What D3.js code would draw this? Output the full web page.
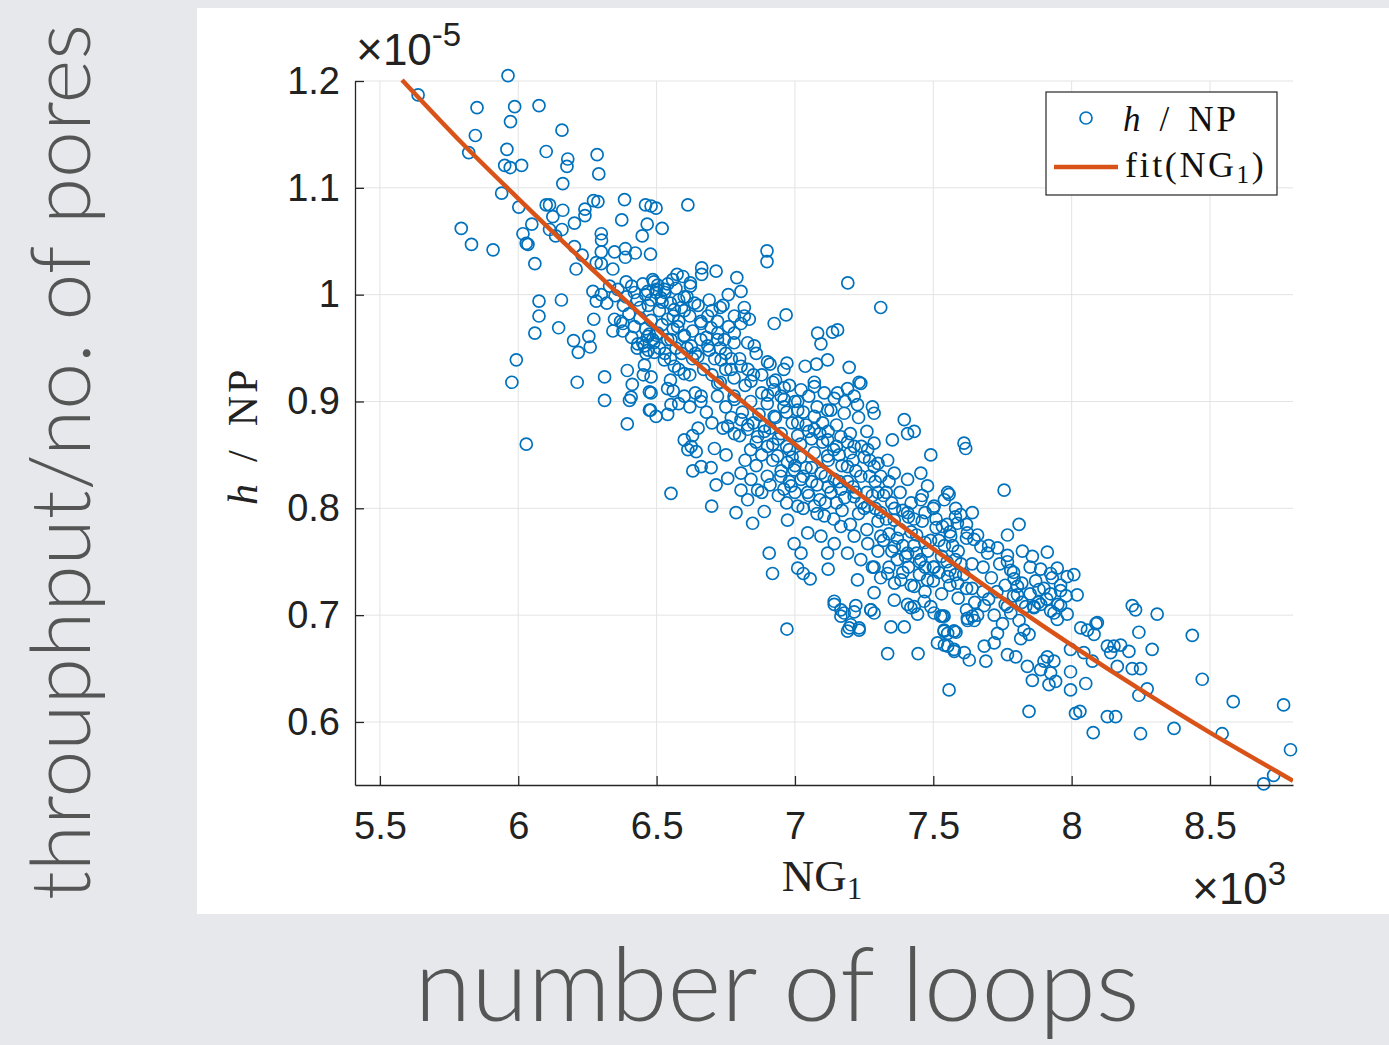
<!DOCTYPE html>
<html>
<head>
<meta charset="utf-8">
<script src="https://cdn.jsdelivr.net/npm/d3@7"></script>
<style>
  html, body { margin: 0; padding: 0; background: #e7e8eb; }
  svg { display: block; }
</style>
</head>
<body>
<svg id="chart" width="1389" height="1045"></svg>
<script>
// Tick values (NG1 in units of 1e3, h/NP in units of 1e-5)
const xTicks = [5.5, 6, 6.5, 7, 7.5, 8, 8.5];
const yTicks = [0.6, 0.7, 0.8, 0.9, 1.0, 1.1, 1.2];
const xTickLabels = ["5.5", "6", "6.5", "7", "7.5", "8", "8.5"];
const yTickLabels = ["0.6", "0.7", "0.8", "0.9", "1", "1.1", "1.2"];

// Fitted curve, sampled along NG1
const fitNG = [5.58, 5.80, 6.00, 6.25, 6.50, 6.75, 7.00, 7.25, 7.50, 7.75, 8.00, 8.25, 8.50, 8.80];
const fitHNP = [1.201, 1.141, 1.090, 1.028, 0.968, 0.913, 0.860, 0.810, 0.762, 0.716, 0.672, 0.630, 0.590, 0.545];

// Measured samples: [NG1 (x1e3), h/NP (x1e-5)]
const samples = [
  [5.638,1.187],[5.963,1.205],[5.851,1.175],[5.987,1.176],[6.075,1.177],[5.972,1.162],[6.158,1.154],[5.845,1.149],
  [5.821,1.133],[5.959,1.136],[6.101,1.134],[6.285,1.131],[5.951,1.121],[5.971,1.119],[6.012,1.121],[6.179,1.127],
  [6.176,1.120],[6.291,1.113],[6.161,1.104],[5.940,1.095],[6.002,1.082],[6.101,1.084],[6.113,1.084],[6.161,1.079],
  [6.272,1.088],[6.288,1.087],[6.384,1.089],[6.460,1.084],[6.480,1.083],[6.498,1.081],[6.241,1.080],[6.241,1.074],
  [6.203,1.067],[6.125,1.073],[6.049,1.066],[6.113,1.061],[6.158,1.061],[6.135,1.055],[6.017,1.057],[6.029,1.048],
  [6.035,1.047],[5.794,1.062],[5.831,1.047],[5.909,1.042],[6.060,1.029],[6.209,1.024],[6.203,1.045],[6.300,1.057],
  [6.301,1.051],[6.374,1.070],[6.466,1.066],[6.520,1.062],[6.448,1.055],[6.300,1.040],[6.348,1.040],[6.387,1.043],
  [6.387,1.035],[6.423,1.039],[6.478,1.038],[6.231,1.037],[6.282,1.030],[6.300,1.029],[6.342,1.024],[6.075,0.994],
  [6.156,0.995],[6.282,0.994],[6.075,0.980],
  [6.060,0.964],[6.146,0.969],[6.273,0.977],[6.348,0.977],[6.378,0.973],[6.342,0.966],[6.378,0.966],[6.200,0.957],
  [6.255,0.961],[6.260,0.951],[6.217,0.946],[5.993,0.939],[5.977,0.918],[6.213,0.918],[6.312,0.923],[6.394,0.929],
  [6.412,0.916],[6.408,0.904],[6.402,0.901],[6.312,0.901],[6.394,0.879],[6.029,0.860],[6.432,0.954],[6.462,0.945],
  [6.456,0.934],[6.452,0.925],[6.474,0.909],[6.478,0.892],[6.474,0.963],[6.486,0.958],
  [6.613,1.084],[6.899,1.041],[6.899,1.031],[7.191,1.011],[7.310,0.988],[6.663,1.025],[6.663,1.019],[6.715,1.022],
  [6.574,1.019],[6.595,1.017],[6.622,1.011],[6.622,1.008],[6.790,1.016],[6.759,1.000],[6.805,1.003],[6.730,0.988],
  [6.925,0.973],[6.968,0.981],[7.082,0.964],[7.094,0.954],[7.136,0.965],[7.154,0.967],[7.037,0.933],[7.078,0.935],
  [7.118,0.939],[7.196,0.932],[7.232,0.918],[6.901,0.937],[6.971,0.936],[6.817,0.988],[6.817,0.980],[6.835,0.977],
  [6.486,1.014],[6.504,1.009],[6.528,1.005],[6.498,1.002],[6.468,1.003],[6.516,0.997],[6.558,1.014],[6.600,0.998],
  [6.637,0.992],[6.685,0.980],[6.661,0.973],[6.697,0.969],[6.721,0.964],
  [6.564,0.986],[6.540,0.977],[6.576,0.970],[6.600,0.961],[6.552,0.958],[6.504,0.964],[6.468,0.961],[6.456,0.952],
  [6.492,0.946],[6.528,0.939],[6.564,0.933],[6.625,0.952],[6.649,0.942],[6.685,0.952],[6.733,0.939],[6.769,0.930],
  [6.805,0.933],[6.745,0.958],[6.781,0.964],[6.829,0.955],[6.853,0.952],[6.805,0.973],[6.781,0.980],
  [6.480,0.923],[6.540,0.912],[6.600,0.926],[6.661,0.905],[6.721,0.917],[6.781,0.902],[6.841,0.919],[6.901,0.906],
  [6.961,0.913],[7.010,0.900],[7.070,0.918],[7.142,0.903],[7.190,0.912],[7.226,0.897],
  [6.552,0.814],[6.699,0.802],[6.787,0.796],[6.847,0.786],[6.889,0.797],[6.907,0.758],[6.919,0.739],[6.971,0.687],
  [7.010,0.744],[7.030,0.739],[7.055,0.734],[7.120,0.743],[7.142,0.713],[7.166,0.705],[7.214,0.703],[7.274,0.705],
  [7.196,0.688],[7.232,0.688],[7.347,0.689],[7.395,0.689],[7.539,0.686],[7.575,0.685],
  [6.480,0.908],[6.474,0.892],[6.498,0.886],[6.540,0.888],[6.552,0.897],
  [6.600,0.864],[6.625,0.858],[6.643,0.853],[6.613,0.855],[6.709,0.856],[6.751,0.850],[6.661,0.839],[6.697,0.838],
  [6.631,0.835],[6.715,0.822],[6.757,0.828],[6.805,0.833],[6.841,0.827],[6.865,0.817],[6.805,0.817],[6.829,0.808],
  [6.757,0.877],[6.781,0.870],[6.805,0.883],[6.829,0.874],[6.865,0.867],[6.889,0.877],[6.925,0.886],[6.901,0.858],
  [6.937,0.849],[6.973,0.843],[6.997,0.836],[6.949,0.830],[6.986,0.821],[7.022,0.827],[7.046,0.815],[7.070,0.802],
  [7.106,0.793],[7.010,0.802],[6.973,0.789],
  [7.022,0.911],[7.070,0.914],[7.106,0.908],[7.154,0.908],[7.214,0.905],[7.238,0.917],[7.286,0.889],[7.178,0.889],
  [7.118,0.892],[7.070,0.886],[7.010,0.892],[6.961,0.902],[6.925,0.911],
  [7.395,0.883],[7.407,0.870],[7.431,0.872],[7.352,0.864],[7.491,0.850],
  [7.070,0.874],[7.118,0.864],[7.166,0.867],[7.214,0.858],[7.263,0.855],[7.286,0.861],[7.118,0.849],[7.190,0.839],
  [7.238,0.830],[7.286,0.839],[7.335,0.845],[7.359,0.833],[7.407,0.827],[7.455,0.833],[7.479,0.821],[7.552,0.815],
  [7.503,0.802],[7.455,0.808],[7.407,0.796],[7.359,0.789],[7.310,0.796],[7.263,0.802],[7.214,0.811],[7.166,0.818],
  [7.142,0.827],[7.094,0.833],
  [7.166,0.783],[7.214,0.774],[7.263,0.767],[7.310,0.774],[7.359,0.764],[7.407,0.758],[7.455,0.752],[7.503,0.745],
  [7.552,0.736],[7.588,0.730],[7.479,0.733],[7.431,0.727],[7.383,0.733],[7.335,0.739],[7.286,0.745],[7.238,0.752],
  [7.190,0.758],[7.142,0.767],[7.094,0.774],[7.046,0.777],[6.997,0.767],[7.022,0.758],[7.118,0.758],[7.226,0.733],
  [7.286,0.721],[7.359,0.714],[7.431,0.708],[7.491,0.708],[7.527,0.699],
  [7.611,0.861],[7.617,0.856],[7.756,0.817],[7.557,0.813],[7.581,0.800],[7.599,0.794],[7.641,0.796],[7.810,0.785],
  [7.768,0.775],[7.533,0.783],[7.587,0.786],[7.563,0.774],[7.623,0.777],[7.647,0.771],[7.672,0.764],[7.696,0.758],
  [7.732,0.763],[7.768,0.756],[7.822,0.760],[7.858,0.755],[7.912,0.759],
  [7.888,0.743],[7.924,0.739],[7.948,0.744],[7.984,0.736],[8.008,0.738],[7.882,0.724],[7.924,0.720],[7.960,0.723],
  [8.020,0.719],[7.804,0.727],[7.768,0.750],[7.780,0.742],[7.792,0.734],[7.804,0.719],
  [7.864,0.707],[7.888,0.710],[7.924,0.704],[7.960,0.709],[7.984,0.701],[7.948,0.696],[7.834,0.708],[7.623,0.697],
  [7.641,0.699],[7.539,0.699],
  [8.219,0.709],[8.231,0.705],[8.309,0.701],[8.093,0.693],[8.033,0.688],[8.057,0.686],[8.081,0.682],[8.436,0.681],
  [8.243,0.684],[8.291,0.668],[8.472,0.640],[8.584,0.619],[8.766,0.616],[8.791,0.574],[8.544,0.589],[8.370,0.594],
  [8.249,0.589],[8.078,0.590],[8.129,0.605],[8.159,0.605],[8.014,0.608],[8.030,0.610],[7.846,0.610],[7.557,0.630],
  [7.996,0.630],[8.051,0.636],[8.243,0.625],[8.273,0.631],
  [8.129,0.671],[8.153,0.671],[8.177,0.672],[8.141,0.665],[8.207,0.666],[8.165,0.652],[8.219,0.650],[8.249,0.650],
  [8.075,0.657],[7.996,0.647],[8.088,0.692],[7.996,0.668],[8.044,0.665],
  [7.912,0.661],[7.900,0.657],[7.936,0.657],[7.888,0.649],[7.924,0.646],[7.942,0.638],[7.918,0.635],[7.858,0.639],
  [7.840,0.652],[7.798,0.661],[7.768,0.663],[7.846,0.682],[7.828,0.686],[7.816,0.678],[7.732,0.683],[7.720,0.674],
  [7.684,0.671],[7.690,0.657],[7.630,0.658],[7.612,0.665],[7.576,0.666],[7.540,0.672],[7.552,0.683],[7.582,0.684],
  [7.624,0.695],[7.648,0.695],[7.684,0.709],[7.768,0.708],[7.864,0.708],[7.936,0.702],
  [8.730,0.550],[8.694,0.542],
  [7.335,0.664],[7.445,0.664],
  [7.142,0.710],[7.178,0.702],[7.166,0.699],[7.220,0.709],[7.202,0.691],[7.190,0.685],[7.232,0.686],[7.274,0.705],
  [7.286,0.702],[7.407,0.710],[7.419,0.707],[7.443,0.701],[7.503,0.702],[7.533,0.699],[7.467,0.713],
  [7.515,0.674],[7.552,0.671],[7.575,0.668],[7.539,0.685],[7.575,0.685],
  // dense core of the band
  [6.36,1.005],[6.39,0.998],[6.41,1.008],[6.43,0.995],[6.45,1.010],[6.47,0.990],[6.49,1.012],[6.51,0.985],
  [6.53,1.002],[6.55,0.992],[6.57,1.006],[6.59,0.988],[6.61,0.998],[6.40,0.982],[6.42,0.970],[6.44,0.978],
  [6.46,0.968],[6.48,0.976],[6.50,0.962],[6.52,0.972],[6.54,0.958],[6.56,0.968],[6.58,0.975],[6.60,0.962],
  [6.62,0.980],[6.38,0.990],[6.35,0.999],[6.37,0.975],[6.45,0.955],[6.47,0.948],[6.53,0.945],[6.57,0.950],
  [6.63,0.966],[6.65,0.990],[6.66,0.975],[6.68,0.960],[6.64,0.945],[6.70,0.985],[6.72,0.975],[6.69,0.995],
  [6.74,0.990],[6.76,0.970],[6.78,0.955],[6.73,0.950],[6.71,0.940],[6.67,0.930],[6.62,0.925],[6.58,0.930],
  [6.55,0.920],[6.30,1.000],[6.32,0.992],[6.33,1.008],[6.27,1.003],
  [6.39,1.012],[6.42,1.002],[6.44,0.988],[6.46,1.000],[6.48,0.995],[6.50,1.005],[6.52,0.993],[6.54,1.010],
  [6.56,0.980],[6.58,0.995],[6.60,0.985],[6.41,0.960],[6.43,0.950],[6.49,0.955],[6.51,0.950],[6.55,0.940],
  [6.59,0.945],[6.61,0.950],[6.63,0.940],[6.66,0.958],[6.69,0.948],[6.72,0.958],[6.75,0.945],[6.77,0.940],
  [6.70,0.925],[6.73,0.918],[6.75,0.930],[6.78,0.922],[6.80,0.940],[6.83,0.930],[6.86,0.945],[6.88,0.925],
  [6.91,0.935],[6.93,0.920],[6.96,0.930],[6.98,0.915],[6.72,0.905],[6.75,0.895],[6.78,0.905],[6.81,0.890],
  [6.84,0.900],[6.87,0.888],[6.90,0.898],[6.93,0.885],[6.96,0.895],[6.99,0.880],[6.74,0.875],[6.77,0.885],
  [6.80,0.868],[6.83,0.878],[6.86,0.862],[6.89,0.872],[6.92,0.860],[6.95,0.870],[6.98,0.855],[7.01,0.868],
  [6.70,0.880],[6.68,0.890],[6.66,0.900],[6.64,0.908],[6.62,0.895],[6.60,0.905],[6.58,0.898],[6.56,0.910],
  [6.65,0.875],[6.63,0.868],
  [6.82,0.915],[6.85,0.925],[6.88,0.908],[6.92,0.918],[6.95,0.905],[6.97,0.890],[7.01,0.880],[7.04,0.878],
  [7.06,0.865],[7.09,0.870],[7.12,0.872],[7.14,0.855],[7.16,0.850],[7.19,0.862],[7.21,0.845],[7.24,0.858],
  [7.27,0.845],[7.29,0.825],[7.31,0.830],[7.33,0.815],[7.06,0.825],[7.09,0.808],[7.12,0.820],[7.15,0.805],
  [7.19,0.825],[7.22,0.815],[7.25,0.800],[7.28,0.812],[6.91,0.875],[6.94,0.865],[6.97,0.858],[6.99,0.848],
  [6.85,0.880],[6.88,0.850],[6.91,0.822],[6.96,0.818],[7.02,0.848],[7.04,0.838],
  [7.00,0.900],[7.03,0.890],[7.05,0.905],[7.08,0.895],[7.10,0.880],[7.13,0.892],[7.15,0.878],[7.18,0.900],
  [7.20,0.870],[7.23,0.885],[7.26,0.872],[7.28,0.895],[7.02,0.860],[7.05,0.872],[7.07,0.852],[7.10,0.862],
  [7.12,0.845],[7.15,0.858],[7.17,0.840],[7.20,0.852],[7.22,0.835],[7.25,0.848],[7.27,0.830],[7.30,0.842],
  [7.00,0.840],[7.03,0.830],[7.06,0.838],[7.08,0.822],[7.11,0.830],[7.13,0.815],[7.16,0.825],[7.18,0.810],
  [7.21,0.820],[7.24,0.805],[7.26,0.815],[7.29,0.800],[7.32,0.812],[6.98,0.825],[6.95,0.835],[6.92,0.845],
  [6.90,0.830],[6.94,0.812],[6.97,0.805],[7.00,0.815],[7.03,0.800],[7.05,0.812],[7.08,0.795],[7.11,0.805],
  [7.14,0.790],[7.17,0.798],[7.20,0.785],[7.23,0.795],[7.26,0.780],[7.30,0.788],[6.88,0.815],[6.86,0.840],
  [6.84,0.855],[6.82,0.845],
  [7.33,0.790],[7.36,0.800],[7.38,0.780],[7.41,0.792],[7.44,0.775],[7.46,0.788],[7.49,0.770],[7.51,0.782],
  [7.54,0.765],[7.56,0.778],[7.59,0.760],[7.62,0.772],[7.32,0.770],[7.35,0.760],[7.37,0.772],[7.40,0.755],
  [7.43,0.765],[7.45,0.750],[7.48,0.760],[7.50,0.745],[7.53,0.755],[7.56,0.742],[7.58,0.752],[7.61,0.738],
  [7.64,0.748],[7.30,0.760],[7.28,0.745],[7.31,0.735],[7.34,0.745],[7.36,0.730],[7.39,0.740],[7.42,0.728],
  [7.45,0.738],[7.47,0.722],[7.50,0.732],[7.53,0.720],[7.56,0.728],[7.59,0.716],[7.62,0.725],[7.65,0.712],
  [7.68,0.722],[7.30,0.815],[7.34,0.825],[7.38,0.815],[7.42,0.805],[7.46,0.812],[7.50,0.800],[7.54,0.808],
  [7.58,0.792],[7.62,0.785],[7.66,0.775],[7.70,0.765],
  [7.35,0.805],[7.39,0.798],[7.43,0.790],[7.47,0.796],[7.51,0.790],[7.55,0.785],[7.37,0.752],[7.41,0.745],
  [7.44,0.758],[7.47,0.745],[7.52,0.740],[7.55,0.750],[7.58,0.738],[7.60,0.748],[7.34,0.776],[7.39,0.765],
  [7.42,0.778],[7.47,0.768],[7.52,0.770],[7.57,0.765],
  [7.68,0.745],[7.71,0.735],[7.74,0.748],[7.76,0.728],[7.79,0.740],[7.82,0.730],[7.85,0.745],[7.87,0.732],
  [7.90,0.725],[7.93,0.735],[7.96,0.728],[7.70,0.715],[7.73,0.722],[7.76,0.710],[7.79,0.718],[7.82,0.712],
  [7.85,0.720],[7.88,0.712],[7.91,0.715],[7.95,0.710],[7.98,0.718],[7.72,0.700],[7.75,0.692],[7.78,0.702],
  [7.81,0.695],[7.66,0.700],[7.64,0.725],[7.62,0.705]
];

// Layout
const W = 1389, H = 1045;
const plot = { left: 355, right: 1293, top: 81, bottom: 785 };
const xDomain = [5.41, 8.80];
const yDomain = [0.541, 1.2];

const axisColor = "#262626";
const gridColor = "#e3e3e3";
const markerColor = "#0072BD";
const fitColor = "#D95319";
const slideText = "#555555";

const svg = d3.select("#chart");

// slide background and white figure panel
svg.append("rect").attr("x", 0).attr("y", 0).attr("width", W).attr("height", H).attr("fill", "#e7e8eb");
svg.append("rect").attr("x", 197).attr("y", 8).attr("width", W - 197).attr("height", 906).attr("fill", "#ffffff");

const x = d3.scaleLinear().domain(xDomain).range([plot.left, plot.right]);
const y = d3.scaleLinear().domain(yDomain).range([plot.bottom, plot.top]);

// grid
const grid = svg.append("g").attr("stroke", gridColor).attr("stroke-width", 1);
grid.selectAll("line.gx").data(xTicks).join("line")
  .attr("x1", d => x(d)).attr("x2", d => x(d))
  .attr("y1", plot.top).attr("y2", plot.bottom);
grid.selectAll("line.gy").data(yTicks).join("line")
  .attr("x1", plot.left).attr("x2", plot.right)
  .attr("y1", d => y(d)).attr("y2", d => y(d));

// scatter markers
svg.append("g").selectAll("circle").data(samples).join("circle")
  .attr("cx", d => x(d[0])).attr("cy", d => y(d[1]))
  .attr("r", 6)
  .attr("fill", "none")
  .attr("stroke", markerColor)
  .attr("stroke-width", 1.7);

// fitted curve, clipped to the axes box
svg.append("clipPath").attr("id", "plotClip").append("rect")
  .attr("x", plot.left).attr("y", plot.top - 3)
  .attr("width", plot.right - plot.left).attr("height", plot.bottom - plot.top + 3);

const fitLine = d3.line().x(d => x(d[0])).y(d => y(d[1])).curve(d3.curveCatmullRom);
svg.append("path")
  .datum(fitNG.map((v, i) => [v, fitHNP[i]]))
  .attr("d", fitLine)
  .attr("fill", "none")
  .attr("stroke", fitColor)
  .attr("stroke-width", 4.5)
  .attr("clip-path", "url(#plotClip)");

// axes with inward ticks
const tickFont = "'Liberation Sans', Helvetica, Arial, sans-serif";
const yAxis = d3.axisLeft(y).tickValues(yTicks)
  .tickFormat((d, i) => yTickLabels[i])
  .tickSizeInner(-9).tickSizeOuter(0).tickPadding(15);
const xAxis = d3.axisBottom(x).tickValues(xTicks)
  .tickFormat((d, i) => xTickLabels[i])
  .tickSizeInner(-9).tickSizeOuter(0).tickPadding(27);

function styleAxis(g) {
  g.select(".domain").attr("stroke", axisColor).attr("stroke-width", 1.3);
  g.selectAll(".tick line").attr("stroke", axisColor).attr("stroke-width", 1.3);
  g.selectAll(".tick text").attr("fill", "#222").attr("font-family", tickFont).attr("font-size", 38);
}
svg.append("g").attr("transform", `translate(${plot.left},0)`).call(yAxis).call(styleAxis);
svg.append("g").attr("transform", `translate(0,${plot.bottom})`).call(xAxis).call(styleAxis);

// exponent multipliers
const expY = svg.append("text").attr("x", 356).attr("y", 65)
  .attr("font-family", tickFont).attr("font-size", 44).attr("fill", "#222");
expY.append("tspan").attr("font-size", 46).text("\u00d7");
expY.append("tspan").text("10");
expY.append("tspan").attr("font-size", 33).attr("dy", -19).text("-5");

const expX = svg.append("text").attr("x", 1192).attr("y", 904)
  .attr("font-family", tickFont).attr("font-size", 44).attr("fill", "#222");
expX.append("tspan").attr("font-size", 46).text("\u00d7");
expX.append("tspan").text("10");
expX.append("tspan").attr("font-size", 33).attr("dy", -19).text("3");

// axis labels (serif, math style)
const serif = "'Liberation Serif', 'Times New Roman', serif";
const yLab = svg.append("text")
  .attr("transform", "translate(257,505) rotate(-90)")
  .attr("text-anchor", "start")
  .attr("font-family", serif).attr("font-size", 42).attr("fill", "#222");
yLab.append("tspan").attr("font-style", "italic").text("h");
yLab.append("tspan").attr("dx", 22).text("/");
yLab.append("tspan").attr("dx", 24).attr("letter-spacing", 3).text("NP");

const xLab = svg.append("text")
  .attr("x", 822).attr("y", 891)
  .attr("text-anchor", "middle")
  .attr("font-family", serif).attr("font-size", 45).attr("fill", "#222");
xLab.append("tspan").text("NG");
xLab.append("tspan").attr("font-size", 31).attr("dy", 8).text("1");

// legend
const lg = svg.append("g");
lg.append("rect").attr("x", 1046).attr("y", 92).attr("width", 231).attr("height", 103)
  .attr("fill", "#fff").attr("stroke", axisColor).attr("stroke-width", 1.2);
lg.append("circle").attr("cx", 1086).attr("cy", 118).attr("r", 6)
  .attr("fill", "none").attr("stroke", markerColor).attr("stroke-width", 1.7);
const lt1 = lg.append("text").attr("x", 1123).attr("y", 131)
  .attr("font-family", serif).attr("font-size", 35).attr("fill", "#111");
lt1.append("tspan").attr("font-style", "italic").text("h");
lt1.append("tspan").attr("dx", 19).text("/");
lt1.append("tspan").attr("dx", 19).attr("letter-spacing", 3).text("NP");
lg.append("line").attr("x1", 1054).attr("x2", 1118).attr("y1", 167).attr("y2", 167)
  .attr("stroke", fitColor).attr("stroke-width", 4.5);
const lt2 = lg.append("text").attr("x", 1125).attr("y", 177)
  .attr("font-family", serif).attr("font-size", 36).attr("fill", "#111")
  .attr("letter-spacing", 2.6);
lt2.append("tspan").text("fit(NG");
lt2.append("tspan").attr("font-size", 25).attr("dy", 6).text("1");
lt2.append("tspan").attr("dy", -6).text(")");

// slide captions
const slideFont = "Lato, 'Open Sans', sans-serif";
svg.append("text")
  .attr("transform", "translate(90,462) rotate(-90)")
  .attr("text-anchor", "middle")
  .attr("font-family", slideFont).attr("font-weight", 300)
  .attr("font-size", 82).attr("fill", slideText)
  .attr("textLength", 876).attr("lengthAdjust", "spacingAndGlyphs")
  .text("throuphput/no. of pores");

svg.append("text")
  .attr("x", 777).attr("y", 1021)
  .attr("text-anchor", "middle")
  .attr("font-family", slideFont).attr("font-weight", 300)
  .attr("font-size", 102).attr("fill", slideText)
  .attr("textLength", 725).attr("lengthAdjust", "spacingAndGlyphs")
  .text("number of loops");
</script>
</body>
</html>
